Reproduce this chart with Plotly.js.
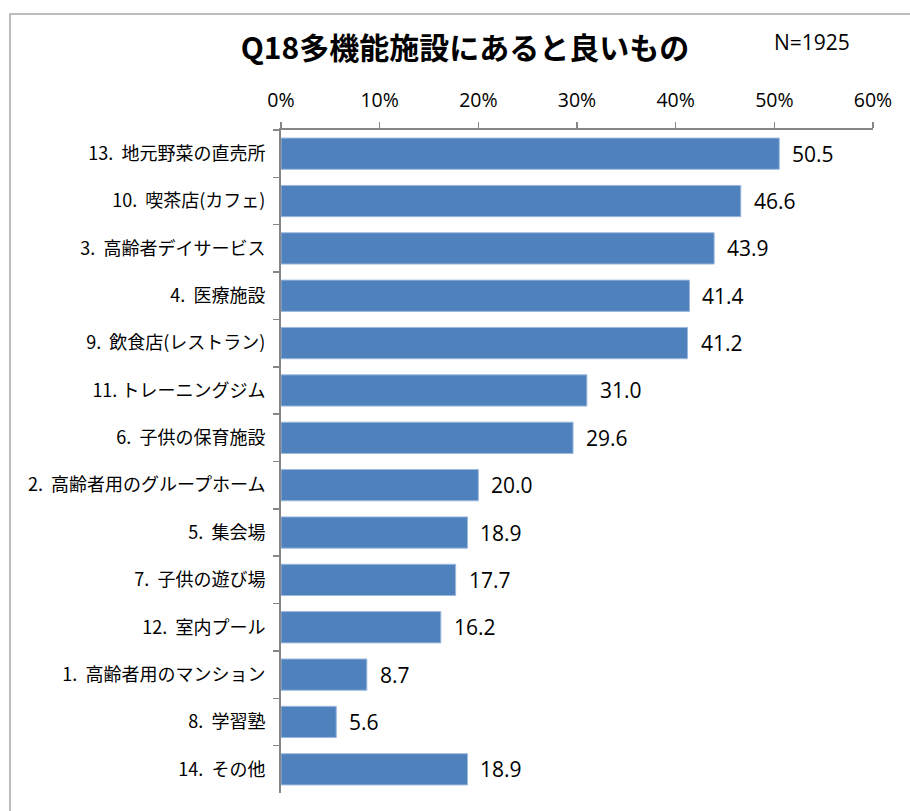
<!DOCTYPE html>
<html>
<head>
<meta charset="utf-8">
<script src="https://cdn.plot.ly/plotly-3.0.1.min.js"></script>
<style>
html,body{margin:0;padding:0;background:#fff;}
#chart{width:910px;height:811px;}
</style>
</head>
<body>
<div id="chart"></div>
<script>
var categories = [
  "13.  地元野菜の直売所",
  "10.  喫茶店(カフェ)",
  "3.  高齢者デイサービス",
  "4.  医療施設",
  "9.  飲食店(レストラン)",
  "11. トレーニングジム",
  "6.  子供の保育施設",
  "2.  高齢者用のグループホーム",
  "5.  集会場",
  "7.  子供の遊び場",
  "12.  室内プール",
  "1.  高齢者用のマンション",
  "8.  学習塾",
  "14.  その他"
];
var values = [50.5, 46.6, 43.9, 41.4, 41.2, 31.0, 29.6, 20.0, 18.9, 17.7, 16.2, 8.7, 5.6, 18.9];
var tickValues = [0, 10, 20, 30, 40, 50, 60];
var tickLabels = ["0%", "10%", "20%", "30%", "40%", "50%", "60%"];
var titleText = "Q18多機能施設にあると良いもの";
var sampleText = "N=1925";

var axisColor = "#868686";

var trace = {
  type: "bar",
  orientation: "h",
  x: values,
  y: categories,
  marker: {color: "#4F81BD", line: {color: "#9DB9DE", width: 1}},
  hoverinfo: "x+y"
};

var annotations = values.map(function (v, i) {
  return {
    x: v, y: categories[i], xref: "x", yref: "y",
    text: v.toFixed(1), showarrow: false,
    xanchor: "left", yanchor: "middle", xshift: 11,
    font: {family: "Open Sans", size: 21, color: "#000"}
  };
});
annotations.push({
  x: (812 - 281) / 592, y: 1 + (130 - 42) / 663, xref: "paper", yref: "paper",
  text: sampleText, showarrow: false,
  xanchor: "center", yanchor: "middle",
  font: {family: "Open Sans", size: 21, color: "#000"}
});

var layout = {
  width: 910, height: 811,
  margin: {l: 281, r: 37, t: 130, b: 18},
  paper_bgcolor: "#fff", plot_bgcolor: "#fff",
  showlegend: false,
  bargap: 0.34,
  title: {
    text: titleText,
    x: 465 / 910, xref: "container", xanchor: "center",
    y: 1 - 48 / 811, yref: "container", yanchor: "middle",
    font: {family: "Noto Sans CJK JP", size: 30, color: "#000", weight: "bold"}
  },
  xaxis: {
    side: "top",
    range: [0, 60],
    tickvals: tickValues,
    ticktext: tickLabels,
    ticks: "outside", ticklen: 6, tickwidth: 1.5, tickcolor: axisColor,
    showline: true, linecolor: axisColor, linewidth: 2,
    showgrid: false, zeroline: false,
    ticklabelstandoff: 7,
    tickfont: {family: "Open Sans", size: 19.5, color: "#000"},
    fixedrange: true
  },
  yaxis: {
    type: "category",
    autorange: "reversed",
    tickson: "boundaries",
    ticks: "outside", ticklen: 6, tickwidth: 1.5, tickcolor: axisColor,
    showline: true, linecolor: axisColor, linewidth: 2,
    showgrid: false, zeroline: false,
    ticklabelstandoff: 10,
    tickfont: {family: "Noto Sans CJK JP", size: 18, color: "#000"},
    fixedrange: true
  },
  annotations: annotations,
  shapes: [{
    type: "rect", xref: "paper", yref: "paper", layer: "below",
    x0: (10 - 281) / 592, x1: 1.2,
    y0: -0.1, y1: 1 + (130 - 14) / 663,
    line: {color: "#A6A6A6", width: 1.5},
    fillcolor: "rgba(0,0,0,0)"
  }]
};

Plotly.newPlot("chart", [trace], layout, {displayModeBar: false, staticPlot: true});
</script>
</body>
</html>
